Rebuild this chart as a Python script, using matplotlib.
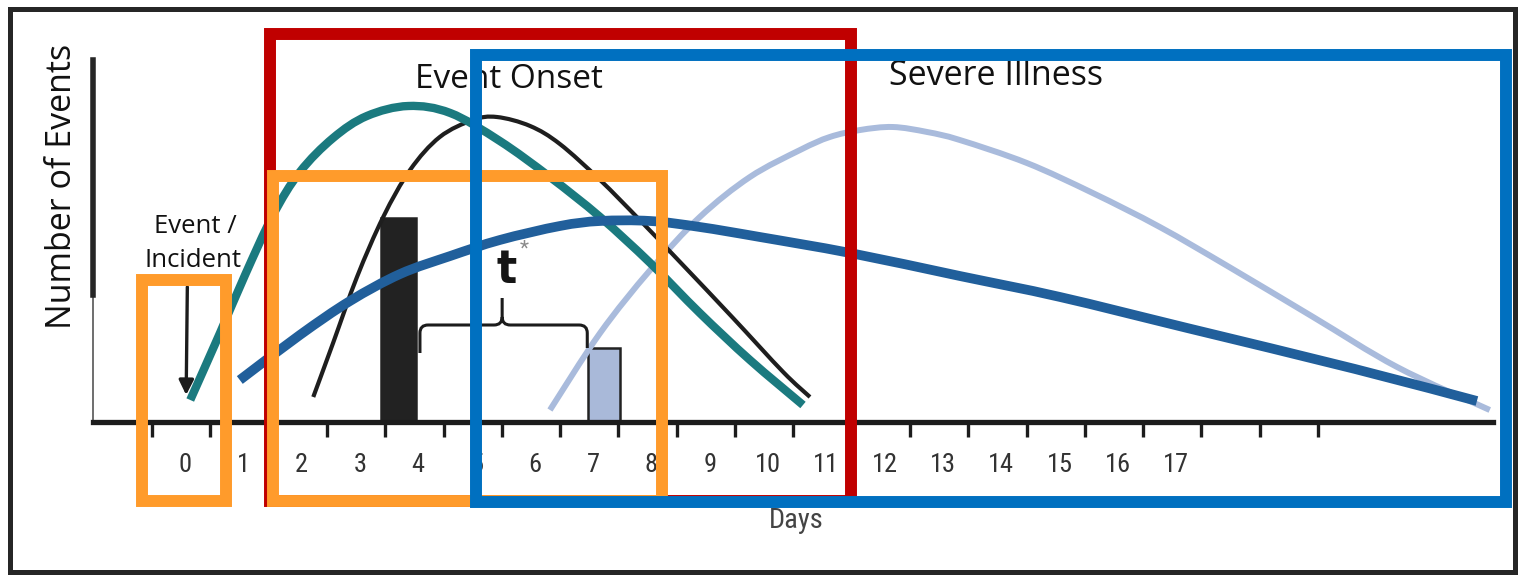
import matplotlib
matplotlib.use("Agg")
import matplotlib.pyplot as plt
from matplotlib.patches import Rectangle, PathPatch
from matplotlib.path import Path
from matplotlib import font_manager as fm
import numpy as np

# ---------------- data (days on x, number of events on y) ----------------
day_values = list(range(18))
day_labels = [str(d) for d in day_values]

teal_days = [0.09, 0.60, 1.03, 1.51, 1.97, 2.54, 3.12, 3.83, 4.55, 5.40, 6.26, 7.12, 7.98, 8.83, 9.69, 10.60]
teal_events = [2.2, 8.9, 14.7, 20.7, 25.0, 28.4, 30.6, 31.6, 30.9, 28.1, 24.5, 20.5, 15.9, 10.9, 6.2, 1.7]

onset_days = [2.20, 2.54, 2.95, 3.40, 3.86, 4.37, 4.94, 5.35, 5.92, 6.43, 7.12, 7.80, 8.54, 9.40, 10.26, 10.72]
onset_events = [2.5, 7.9, 14.5, 20.5, 25.2, 28.5, 30.2, 30.5, 29.6, 27.8, 24.2, 20.2, 15.7, 10.4, 5.0, 2.5]

broad_days = [0.94, 1.97, 2.83, 3.69, 4.55, 5.40, 6.43, 7.12, 7.98, 8.83, 9.86, 11.41, 13.29, 15.01, 17.19, 20.07, 22.16]
broad_events = [4.2, 8.7, 12.1, 14.8, 16.6, 18.2, 19.6, 20.1, 20.1, 19.5, 18.5, 16.9, 14.6, 12.5, 9.4, 5.3, 2.1]

severe_days = [6.26, 7.12, 7.98, 8.83, 9.69, 10.55, 11.06, 11.58, 12.14, 12.73, 13.29, 14.44, 15.57, 16.72,
               17.91, 19.35, 20.79, 22.38]
severe_events = [1.2, 8.9, 15.2, 20.5, 24.5, 27.2, 28.5, 29.2, 29.5, 29.0, 28.2, 25.9, 22.9, 19.5,
                 15.5, 10.5, 5.5, 1.2]

bar_days = [3.66, 7.19]
bar_events = [20.4, 7.4]

# ---------------- styling ----------------
W, H = 1519, 576
fig = plt.figure(figsize=(W / 100, H / 100), dpi=100)

avail = {f.name for f in fm.fontManager.ttflist}
main_font = 'Open Sans' if 'Open Sans' in avail else 'DejaVu Sans'

# find a condensed / narrow sans face for the axis numbers
cond_file, cond_kind = None, None
for pref in ['liberationsansnarrow-regular', 'liberationsansnarrow', 'robotocondensed-regular',
             'dejavusanscondensed.ttf', 'notosans-condensed', 'opensans-condensed']:
    for f in fm.fontManager.ttflist:
        if pref in f.fname.lower().replace('_', '').replace(' ', ''):
            cond_file, cond_kind = f.fname, pref
            break
    if cond_file:
        break
cond_bold = None
if cond_file:
    for f in fm.fontManager.ttflist:
        fl = f.fname.lower()
        if ('narrow' in fl or 'condensed' in fl) and 'bold' in fl and 'italic' not in fl and 'oblique' not in fl:
            cond_bold = f.fname
            break

if cond_file:
    num_fp = fm.FontProperties(fname=cond_file)
    num_size = 20.5 if 'narrow' in cond_kind else 19
else:
    num_fp = fm.FontProperties(family='Liberation Sans')
    num_size = 17
t_fp = fm.FontProperties(fname=cond_bold) if cond_bold else fm.FontProperties(family='Liberation Sans', weight='bold')

px_per_day = 58.3
px_per_event = 10.0
x_axis_px = 93
x_day0_px = 185
y_base_px = 422
y_top_px = 60
x_right_px = 1493

ax = fig.add_axes([x_axis_px / W, (H - y_base_px) / H,
                   (x_right_px - x_axis_px) / W, (y_base_px - y_top_px) / H])
ax.set_xlim((x_axis_px - x_day0_px) / px_per_day, (x_right_px - x_day0_px) / px_per_day)
ax.set_ylim(0, (y_base_px - y_top_px) / px_per_event)
ax.patch.set_visible(False)

for s in ['top', 'right']:
    ax.spines[s].set_visible(False)
ax.spines['bottom'].set_linewidth(3.8)
ax.spines['bottom'].set_color('#1c1c1c')
ax.spines['left'].set_linewidth(4)
ax.spines['left'].set_color('#262626')
ax.spines['left'].set_bounds(12.7, ax.get_ylim()[1])
ax.plot([0, 0], [0, 12.7], transform=ax.get_yaxis_transform(), color='#555555',
        lw=1.2, clip_on=False, zorder=2)
ax.set_yticks([])

ax.set_xticks(day_values, day_labels)
ax.set_xticks(np.arange(21) - 0.566, minor=True)
ax.tick_params(axis='x', which='major', length=0, pad=22, labelcolor='#333333')
ax.tick_params(axis='x', which='minor', length=11, width=2.4, direction='out', color='#1c1c1c')
for lab in ax.get_xticklabels():
    lab.set_fontproperties(num_fp)
    lab.set_fontsize(num_size)

# bars
ax.bar(bar_days, bar_events, width=[0.6, 0.55], color=['#222222', '#A9B9D9'],
       edgecolor=['#222222', '#222222'], linewidth=1.8, zorder=2)


def smooth(xs, ys):
    pts = np.column_stack([xs, ys]).astype(float)
    n = len(pts)
    verts = [pts[0]]
    codes = [Path.MOVETO]
    for i in range(n - 1):
        p0 = pts[i - 1] if i > 0 else pts[i]
        p1, p2 = pts[i], pts[i + 1]
        p3 = pts[i + 2] if i + 2 < n else pts[i + 1]
        verts += [p1 + (p2 - p0) / 6, p2 - (p3 - p1) / 6, p2]
        codes += [Path.CURVE4] * 3
    return Path(verts, codes)


def curve(xs, ys, color, lw, z):
    ax.add_patch(PathPatch(smooth(xs, ys), fill=False, edgecolor=color, lw=lw,
                           capstyle='butt', joinstyle='round', zorder=z, clip_on=False))


curve(severe_days, severe_events, '#A9BBDC', 4.3, 3)
curve(onset_days, onset_events, '#1e1e1e', 3.0, 4)
curve(teal_days, teal_events, '#1B7A7F', 6.0, 5)
curve(broad_days, broad_events, '#215F9B', 7.0, 6)

# arrow for the event / incident
ax.annotate('', xy=(0.02, 2.7), xytext=(0.04, 13.5),
            arrowprops=dict(arrowstyle='-|>', lw=2.4, color='#1c1c1c', mutation_scale=22,
                            shrinkA=0, shrinkB=0), zorder=4, annotation_clip=False)

# curly brace for t*
bl, br, by, bt = 4.03, 6.90, 9.7, 5.44
rx, ry = 0.14, 0.8
brace_v = [(bl, 6.9), (bl, by - ry), (bl, by), (bl + rx, by), (bt - rx, by), (bt, by), (bt, by + ry),
           (bt, 12.4),
           (bt, by + ry), (bt, by), (bt + rx, by), (br - rx, by), (br, by), (br, by - ry), (br, 7.4)]
brace_c = [Path.MOVETO, Path.LINETO, Path.CURVE3, Path.CURVE3, Path.LINETO, Path.CURVE3, Path.CURVE3,
           Path.LINETO,
           Path.MOVETO, Path.CURVE3, Path.CURVE3, Path.LINETO, Path.CURVE3, Path.CURVE3, Path.LINETO]
ax.add_patch(PathPatch(Path(brace_v, brace_c), fill=False, edgecolor='#1c1c1c', lw=2.2,
                       zorder=4, clip_on=False))
ax.text(5.51, 13.9, 't', fontproperties=t_fp, fontsize=34 if cond_bold else 29,
        color='#151515', ha='center', va='baseline', zorder=4)
ax.text(5.82, 17.3, '*', fontproperties=num_fp, fontsize=15, color='#8a8a8a',
        ha='center', va='center', zorder=4)

# texts
ax.text(5.56, (y_base_px - 88) / px_per_event, 'Event Onset', fontfamily=main_font, fontsize=24,
        ha='center', va='baseline', color='#111111', zorder=6.5, clip_on=False)
ax.text(13.91, (y_base_px - 85) / px_per_event, 'Severe Illness', fontfamily=main_font, fontsize=24.5,
        ha='center', va='baseline', color='#111111', zorder=6.5, clip_on=False)
ax.text(0.17, (y_base_px - 233) / px_per_event, 'Event /', fontfamily=main_font, fontsize=18.5,
        ha='center', va='baseline', color='#111111', zorder=6.5, clip_on=False)
ax.text(0.14, (y_base_px - 267) / px_per_event, 'Incident', fontfamily=main_font, fontsize=18.5,
        ha='center', va='baseline', color='#111111', zorder=6.5, clip_on=False)

fig.text(62 / W, 1 - 186 / H, 'Number of Events', fontfamily=main_font, fontsize=24.5,
         rotation=90, ha='center', va='center', color='#111111')
fig.text(796 / W, 1 - 521 / H, 'Days', fontproperties=num_fp, fontsize=num_size + 1.5,
         ha='center', va='center', color='#444444')

# highlight boxes (days / events)
boxes = [
    (1.458, 11.432, -7.9, 38.8, '#C00000', 7),
    (1.518, 8.182, -7.9, 24.6, '#FF9B2B', 8),
    (-0.738, 0.703, -7.9, 14.2, '#FF9B2B', 8),
    (4.983, 22.659, -8.0, 36.7, '#0070C0', 9),
]
for x0, x1, y0, y1, col, z in boxes:
    ax.add_patch(Rectangle((x0, y0), x1 - x0, y1 - y0, fill=False, edgecolor=col, lw=8.6,
                           joinstyle='miter', zorder=z, clip_on=False))

# outer frame
fig.add_artist(Rectangle((10 / W, (H - 572) / H), (1515 - 10) / W, (572 - 9) / H, fill=False,
                         edgecolor='#262626', lw=3.6, transform=fig.transFigure))

fig.savefig('out.png', dpi=100)
